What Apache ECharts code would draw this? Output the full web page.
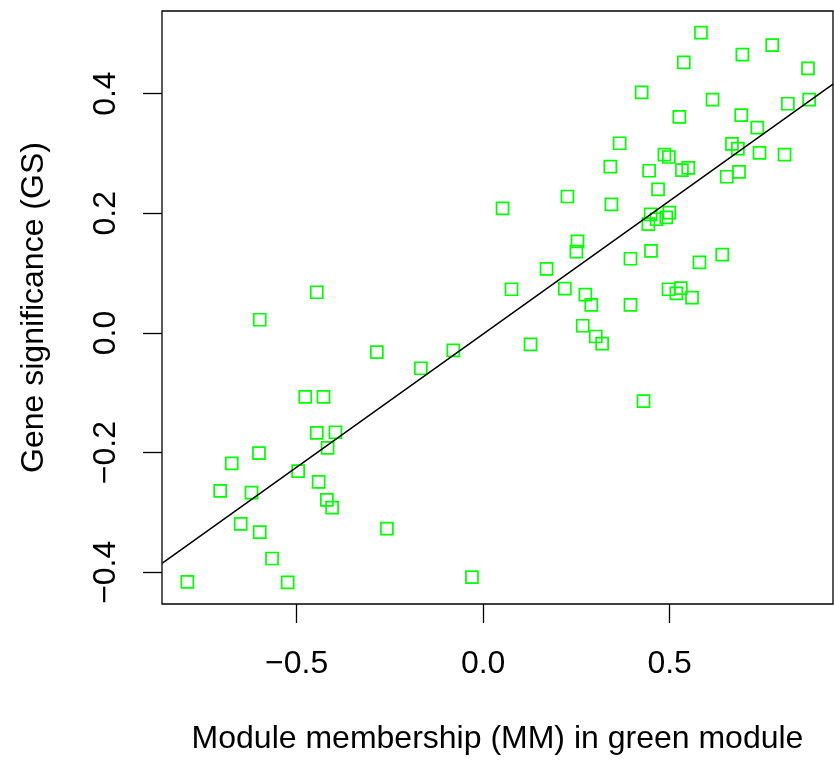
<!DOCTYPE html>
<html>
<head>
<meta charset="utf-8">
<script src="https://cdn.jsdelivr.net/npm/echarts@6/dist/echarts.min.js"></script>
<style>
html,body{margin:0;padding:0;background:#fff;}
#chart{width:834px;height:760px;}
</style>
</head>
<body>
<div id="chart"></div>
<script>
// Module membership (x) and gene significance (y) per gene
const moduleMembership = [
  -0.446,-0.599,-0.285,-0.080,-0.167,-0.477,-0.428,-0.446,-0.396,-0.417,-0.601,-0.674,-0.496,-0.705,-0.621,-0.441,-0.419,-0.405,-0.650,-0.599,-0.258,-0.566,-0.793,-0.524,-0.030,
  0.584,0.775,0.695,0.538,0.871,0.425,0.615,0.817,0.874,0.526,0.692,0.735,0.366,0.667,0.683,0.741,0.808,0.486,0.498,0.341,0.550,0.533,0.445,0.686,0.653,0.469,0.226,0.052,0.344,
  0.449,0.499,0.491,0.465,0.443,0.253,0.250,0.450,0.395,0.170,0.580,0.641,0.076,0.219,0.274,0.290,0.395,0.497,0.530,0.518,0.560,0.267,0.302,0.319,0.127,0.430
];
const geneSignificance = [
  0.068,0.022,-0.032,-0.029,-0.059,-0.107,-0.107,-0.167,-0.166,-0.192,-0.201,-0.218,-0.231,-0.264,-0.267,-0.249,-0.279,-0.292,-0.319,-0.333,-0.327,-0.377,-0.416,-0.417,-0.408,
  0.502,0.481,0.465,0.452,0.442,0.402,0.390,0.383,0.390,0.361,0.364,0.343,0.317,0.316,0.308,0.301,0.298,0.298,0.294,0.278,0.276,0.272,0.271,0.269,0.261,0.240,0.228,0.208,0.215,
  0.198,0.201,0.193,0.190,0.182,0.153,0.136,0.137,0.124,0.107,0.118,0.131,0.073,0.074,0.064,0.047,0.047,0.073,0.075,0.066,0.059,0.012,-0.006,-0.018,-0.019,-0.114
];
const xTicks = [-0.5, 0.0, 0.5];
const yTicks = [-0.4, -0.2, 0.0, 0.2, 0.4];
const xLabel = 'Module membership (MM) in green module';
const yLabel = 'Gene significance (GS)';

const xRange = [-0.861, 0.938];
const yRange = [-0.453, 0.538];

// least-squares fit line (abline(lm(gs ~ mm)))
const n = moduleMembership.length;
let mx = 0, my = 0;
for (let i = 0; i < n; i++) { mx += moduleMembership[i]; my += geneSignificance[i]; }
mx /= n; my /= n;
let sxy = 0, sxx = 0;
for (let i = 0; i < n; i++) {
  sxy += (moduleMembership[i] - mx) * (geneSignificance[i] - my);
  sxx += (moduleMembership[i] - mx) ** 2;
}
const slope = sxy / sxx;
const intercept = my - slope * mx;
const fitLine = xRange.map(x => [x, intercept + slope * x]);

const points = moduleMembership.map((x, i) => [x, geneSignificance[i]]);
const fmt = v => (v < 0 ? '\u2212' : '') + Math.abs(v).toFixed(1);
const FONT = '"Liberation Sans", Arial, Helvetica, sans-serif';

const chart = echarts.init(document.getElementById('chart'), null, {renderer: 'canvas'});
chart.setOption({
  animation: false,
  backgroundColor: '#fff',
  grid: {
    left: 162, right: 1, top: 11, bottom: 154,
    show: true, borderColor: '#000', borderWidth: 1.3, backgroundColor: 'transparent'
  },
  xAxis: {
    type: 'value',
    min: xRange[0], max: xRange[1],
    splitLine: {show: false},
    axisLine: {show: false, onZero: false},
    axisTick: {show: true, length: 19, customValues: xTicks, lineStyle: {color: '#000', width: 1.3}},
    axisLabel: {
      customValues: xTicks, formatter: fmt, margin: 60, verticalAlign: 'middle',
      color: '#000', fontSize: 32, fontFamily: FONT
    },
    name: xLabel, nameLocation: 'middle', nameGap: 135,
    nameTextStyle: {color: '#000', fontSize: 32, fontFamily: FONT, verticalAlign: 'middle'}
  },
  yAxis: {
    type: 'value',
    min: yRange[0], max: yRange[1],
    splitLine: {show: false},
    axisLine: {show: false, onZero: false},
    axisTick: {show: true, length: 19, customValues: yTicks, lineStyle: {color: '#000', width: 1.3}},
    axisLabel: {
      customValues: yTicks, formatter: fmt, rotate: 90, margin: 56, verticalAlign: 'middle',
      color: '#000', fontSize: 32, fontFamily: FONT
    },
    name: yLabel, nameLocation: 'middle', nameGap: 128, nameRotate: 90,
    nameTextStyle: {color: '#000', fontSize: 32, fontFamily: FONT, verticalAlign: 'middle'}
  },
  series: [
    {
      type: 'scatter',
      data: points,
      symbol: 'rect',
      symbolSize: 12,
      itemStyle: {color: 'rgba(0,0,0,0)', borderColor: '#00ff00', borderWidth: 1.7, opacity: 1},
      emphasis: {disabled: true},
      z: 3
    },
    {
      type: 'line',
      data: fitLine,
      showSymbol: false,
      symbol: 'none',
      lineStyle: {color: '#000', width: 1.5},
      clip: true,
      z: 4
    }
  ]
});
</script>
</body>
</html>
